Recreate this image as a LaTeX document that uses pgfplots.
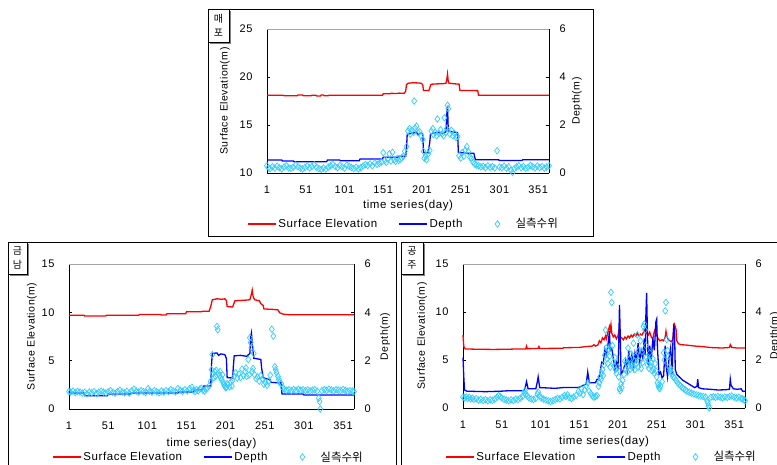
\documentclass[border=0pt]{standalone}
\usepackage{pgfplots}
\usepackage{pgfplotstable}
\pgfplotsset{compat=1.18}
\usepackage{fontspec}
\setmainfont{Liberation Sans}[LetterSpace=5]
\newfontfamily\cjk{Noto Sans CJK KR}

\definecolor{obs}{RGB}{51,204,255}
\definecolor{elev}{RGB}{255,0,0}
\definecolor{dep}{RGB}{0,0,255}

\pgfplotstableread[row sep=\\]{
day d\\
1 0.30\\ 3 0.22\\ 5 0.18\\ 8 0.26\\ 11 0.20\\ 14 0.28\\ 17 0.22\\ 20 0.17\\ 23 0.25\\ 26 0.30\\
29 0.21\\ 32 0.19\\ 35 0.24\\ 38 0.33\\ 41 0.26\\ 44 0.20\\ 47 0.17\\ 50 0.23\\ 53 0.29\\ 56 0.21\\
59 0.27\\ 62 0.34\\ 65 0.24\\ 68 0.18\\ 71 0.15\\ 74 0.21\\ 77 0.16\\ 80 0.24\\ 83 0.30\\ 86 0.36\\
89 0.27\\ 92 0.22\\ 95 0.31\\ 98 0.26\\ 101 0.20\\ 104 0.33\\ 107 0.28\\ 110 0.23\\ 113 0.19\\ 116 0.24\\
119 0.17\\ 122 0.22\\ 125 0.29\\ 128 0.35\\ 131 0.31\\ 134 0.38\\ 137 0.30\\ 140 0.42\\ 143 0.36\\ 146 0.40\\
149 0.46\\ 151 0.85\\ 153 0.52\\ 155 0.44\\ 157 0.58\\ 159 0.80\\ 161 0.50\\ 163 0.86\\ 165 0.55\\ 167 0.48\\
169 0.60\\ 171 0.52\\ 173 0.58\\ 175 0.64\\ 177 0.70\\ 179 0.90\\ 181 1.10\\ 183 1.75\\ 185 1.85\\ 186 1.62\\
188 1.78\\ 190 1.70\\ 191 3.00\\ 192 1.88\\ 194 1.95\\ 196 1.68\\ 198 1.72\\ 200 1.55\\ 202 1.40\\ 203 0.90\\
204 0.62\\ 206 0.70\\ 207 0.55\\ 209 0.80\\ 211 0.95\\ 213 1.75\\ 215 1.85\\ 216 1.60\\ 218 1.70\\ 220 1.55\\
221 2.25\\ 223 1.65\\ 225 1.80\\ 227 1.62\\ 229 1.55\\ 230 2.30\\ 232 1.70\\ 233 1.85\\ 234 2.82\\ 235 2.68\\
237 1.62\\ 239 1.78\\ 241 1.55\\ 243 1.65\\ 245 1.48\\ 247 1.52\\ 249 0.72\\ 251 0.62\\ 253 0.85\\ 255 0.70\\
257 0.95\\ 259 1.10\\ 261 0.88\\ 263 0.65\\ 265 0.60\\ 267 0.45\\ 269 0.38\\ 271 0.33\\ 274 0.30\\ 277 0.26\\
280 0.28\\ 283 0.22\\ 286 0.30\\ 289 0.24\\ 292 0.27\\ 295 0.21\\ 298 0.93\\ 301 0.25\\ 304 0.22\\ 307 0.28\\
310 0.20\\ 313 0.26\\ 316 0.12\\ 318 0.02\\ 320 0.18\\ 323 0.25\\ 326 0.30\\ 329 0.22\\ 332 0.27\\ 335 0.19\\
338 0.24\\ 341 0.31\\ 344 0.26\\ 347 0.21\\ 350 0.29\\ 353 0.23\\ 356 0.27\\ 359 0.20\\ 362 0.25\\ 365 0.30\\
}\obsMaepo

\pgfplotstableread[row sep=\\]{
day d\\
1 0.72\\ 3 0.70\\ 6 0.74\\ 9 0.68\\ 12 0.73\\ 15 0.70\\ 18 0.66\\ 21 0.69\\ 24 0.63\\ 27 0.70\\
30 0.67\\ 33 0.72\\ 36 0.64\\ 39 0.69\\ 42 0.74\\ 45 0.70\\ 48 0.66\\ 51 0.71\\ 54 0.76\\ 57 0.69\\
60 0.65\\ 63 0.72\\ 66 0.78\\ 69 0.70\\ 72 0.67\\ 75 0.73\\ 78 0.66\\ 81 0.75\\ 84 0.82\\ 87 0.74\\
90 0.70\\ 93 0.76\\ 96 0.72\\ 99 0.68\\ 102 0.84\\ 104 0.74\\ 107 0.70\\ 110 0.76\\ 113 0.72\\ 116 0.67\\
119 0.74\\ 122 0.70\\ 125 0.76\\ 128 0.72\\ 131 0.80\\ 134 0.75\\ 137 0.71\\ 140 0.85\\ 143 0.78\\ 146 0.73\\
149 0.80\\ 152 0.75\\ 155 0.84\\ 158 0.90\\ 160 0.78\\ 162 0.72\\ 164 0.80\\ 166 0.75\\ 168 0.82\\ 170 0.86\\
172 0.78\\ 174 0.74\\ 176 0.82\\ 178 0.88\\ 180 0.96\\ 182 1.15\\ 183 1.62\\ 184 2.25\\ 185 1.45\\ 186 1.30\\
187 1.55\\ 188 1.35\\ 189 1.60\\ 190 3.42\\ 191 3.28\\ 192 1.48\\ 193 1.38\\ 194 1.55\\ 195 1.30\\ 196 1.20\\
197 1.42\\ 198 1.10\\ 199 1.00\\ 200 0.95\\ 201 0.88\\ 202 0.90\\ 203 1.05\\ 204 1.00\\ 206 0.92\\ 208 1.12\\
209 0.95\\ 210 1.18\\ 212 1.35\\ 214 1.50\\ 216 1.28\\ 218 1.45\\ 220 1.30\\ 222 1.65\\ 224 1.38\\ 226 1.55\\
227 1.70\\ 228 1.35\\ 230 2.05\\ 231 1.40\\ 232 2.95\\ 233 2.75\\ 234 2.55\\ 235 1.55\\ 236 1.68\\ 237 2.30\\
238 1.42\\ 240 1.25\\ 242 1.32\\ 244 1.15\\ 246 1.38\\ 248 1.25\\ 250 1.02\\ 252 1.10\\ 254 0.98\\ 256 1.15\\
258 1.40\\ 260 3.30\\ 262 3.02\\ 264 1.75\\ 265 1.62\\ 266 1.50\\ 268 1.35\\ 269 1.22\\ 270 1.10\\ 272 1.05\\
274 0.88\\ 276 0.82\\ 279 0.78\\ 282 0.80\\ 285 0.76\\ 288 0.81\\ 291 0.77\\ 294 0.82\\ 297 0.78\\ 300 0.80\\
303 0.76\\ 306 0.79\\ 309 0.75\\ 312 0.78\\ 315 0.80\\ 318 0.74\\ 320 0.45\\ 321 0.31\\ 322 0.00\\ 324 0.76\\
327 0.80\\ 330 0.77\\ 333 0.82\\ 336 0.79\\ 339 0.75\\ 342 0.80\\ 345 0.78\\ 348 0.76\\ 351 0.81\\ 354 0.77\\
357 0.73\\ 360 0.76\\ 363 0.74\\ 365 0.72\\
}\obsGeumnam

\pgfplotstableread[row sep=\\]{
day d\\
1 0.45\\ 3 0.42\\ 5 0.46\\ 7 0.40\\ 9 0.44\\ 11 0.38\\ 13 0.41\\ 15 0.36\\ 18 0.39\\ 21 0.33\\
24 0.36\\ 27 0.31\\ 30 0.35\\ 33 0.30\\ 36 0.34\\ 39 0.32\\ 42 0.37\\ 45 0.45\\ 47 0.52\\ 49 0.48\\
51 0.42\\ 54 0.36\\ 57 0.33\\ 60 0.30\\ 63 0.34\\ 66 0.31\\ 69 0.37\\ 72 0.35\\ 75 0.41\\ 78 0.48\\
80 0.62\\ 81 0.72\\ 82 0.58\\ 84 0.50\\ 86 0.42\\ 89 0.38\\ 92 0.35\\ 95 0.40\\ 97 0.58\\ 98 0.66\\
100 0.50\\ 102 0.42\\ 105 0.37\\ 108 0.33\\ 111 0.30\\ 114 0.27\\ 117 0.30\\ 120 0.35\\ 123 0.40\\ 126 0.38\\
129 0.45\\ 132 0.52\\ 134 0.48\\ 136 0.55\\ 138 0.44\\ 141 0.40\\ 144 0.46\\ 147 0.52\\ 150 0.70\\ 152 0.62\\
154 0.80\\ 156 0.56\\ 158 0.75\\ 160 0.92\\ 162 1.05\\ 164 0.70\\ 166 0.60\\ 168 0.50\\ 170 0.45\\ 172 0.48\\
174 0.52\\ 176 0.90\\ 177 1.05\\ 178 1.30\\ 179 1.20\\ 180 1.45\\ 181 1.60\\ 182 1.35\\ 183 1.80\\ 184 2.20\\
185 3.25\\ 186 2.50\\ 187 2.05\\ 188 1.85\\ 189 2.45\\ 190 2.15\\ 191 1.70\\ 192 4.82\\ 193 4.40\\ 194 2.60\\
195 1.90\\ 196 1.75\\ 197 2.10\\ 198 1.60\\ 199 1.45\\ 201 1.70\\ 202 1.30\\ 203 0.80\\ 204 0.72\\ 205 1.00\\
206 0.85\\ 207 1.15\\ 209 1.40\\ 210 1.95\\ 211 1.60\\ 212 1.85\\ 213 1.50\\ 214 2.50\\ 215 1.75\\ 216 2.05\\
217 1.62\\ 218 2.25\\ 219 1.80\\ 220 1.70\\ 221 2.70\\ 222 1.95\\ 223 1.60\\ 224 2.15\\ 225 1.85\\ 226 3.05\\
227 1.70\\ 228 2.40\\ 229 1.95\\ 230 2.80\\ 231 1.65\\ 232 2.35\\ 233 1.90\\ 234 3.40\\ 235 3.50\\ 236 3.25\\
237 2.60\\ 238 2.10\\ 239 1.80\\ 240 2.00\\ 241 1.65\\ 242 2.30\\ 243 1.75\\ 244 1.90\\ 245 1.55\\ 246 2.05\\
247 1.60\\ 248 1.45\\ 249 1.85\\ 250 1.55\\ 251 1.30\\ 252 1.05\\ 253 0.95\\ 254 0.85\\ 255 0.80\\ 256 0.92\\
258 1.10\\ 260 2.30\\ 261 2.00\\ 262 4.05\\ 263 4.40\\ 264 2.85\\ 265 2.40\\ 266 2.15\\ 267 1.70\\ 268 1.55\\
269 1.65\\ 270 1.50\\ 271 1.40\\ 272 1.30\\ 274 1.25\\ 276 1.15\\ 278 1.05\\ 280 0.98\\ 282 0.92\\ 284 0.85\\
286 0.80\\ 288 0.75\\ 290 0.70\\ 293 0.66\\ 296 0.62\\ 299 0.58\\ 302 0.55\\ 305 0.52\\ 308 0.50\\ 311 0.48\\
314 0.46\\ 316 0.30\\ 317 0.22\\ 318 0.10\\ 319 0.00\\ 321 0.45\\ 324 0.47\\ 327 0.44\\ 330 0.48\\ 333 0.45\\
336 0.42\\ 339 0.46\\ 342 0.44\\ 345 0.48\\ 348 0.50\\ 351 0.45\\ 354 0.42\\ 357 0.45\\ 360 0.40\\ 362 0.38\\
364 0.34\\ 365 0.30\\
}\obsGongju

\tikzset{tag/.style={font=\cjk\fontsize{10}{12}\selectfont, inner sep=0pt}}

\pgfplotsset{
  base/.style={
    scale only axis, xmin=1, xmax=365,
    axis line style={-, line width=0.6pt},
    tick align=inside, major tick length=3pt,
    tick style={black, line width=0.5pt},
    major x tick style={draw=none},
    clip=false,
    font=\fontsize{11}{13}\selectfont,
    /pgf/number format/assume math mode=true,
    every axis plot/.append style={line width=1.3pt},
    legend image code/.code={\draw[mark repeat=2,mark phase=2,##1] plot coordinates {(0pt,0pt) (14pt,0pt) (28pt,0pt)};},
  },
  leftax/.style={
    base, axis x line*=bottom, axis y line*=left,
    xtick={1,51,...,351},
    xticklabel style={yshift=-9pt},
    yticklabel style={xshift=-11pt},
    xlabel={time series(day)},
    xlabel style={anchor=center, font=\fontsize{11.5}{13}\selectfont},
    ylabel={Surface Elevation(m)},
    ylabel style={anchor=center, font=\fontsize{10.5}{12}\selectfont},
  },
  rightax/.style={
    base, axis x line*=top, axis y line*=right,
    x axis line style={gray!70},
    xtick=\empty, ymin=0, ymax=6, ytick={0,2,4,6},
    yticklabel style={xshift=7pt},
    ylabel={Depth(m)},
    ylabel style={anchor=center, font=\fontsize{10.5}{12}\selectfont},
    legend columns=3, legend cell align=left,
    legend style={draw=none, fill=none, inner sep=0pt, anchor=west,
      font=\fontsize{11.5}{13}\selectfont,
      /tikz/every even column/.append style={column sep=19pt}},
  },
  obsplot/.style={only marks, mark=diamond, mark size=3.3pt, color=obs,
    mark options={line width=0.7pt, fill=none}},
  obslegend/.style={legend image code/.code={%
    \path[draw=none, fill=none] (0pt,-3pt) rectangle (30pt,3pt);
    \draw[##1] plot coordinates {(14pt,0pt)};}},
}

\begin{document}
\begin{tikzpicture}
\useasboundingbox (0pt,0pt) rectangle (777pt,465pt);

% panel frames
\draw[line width=0.7pt] (208pt,229pt) rectangle (593pt,456pt);
\draw[line width=0.7pt] (8pt,-5pt) rectangle (396pt,223pt);
\draw[line width=0.7pt] (401pt,-5pt) rectangle (800pt,223pt);

% station tags
\draw[gray, line width=1.5pt] (230pt,454pt) -- (230pt,422pt) -- (210pt,422pt);
\draw[fill=white, line width=0.6pt] (208pt,456pt) rectangle (229pt,423pt);
\node[tag] at (218.5pt,446pt) {매};
\node[tag] at (218.5pt,432pt) {포};
\draw[gray, line width=1.5pt] (28pt,221pt) -- (28pt,190pt) -- (10pt,190pt);
\draw[fill=white, line width=0.6pt] (8pt,223pt) rectangle (27pt,191pt);
\node[tag] at (17.5pt,214pt) {금};
\node[tag] at (17.5pt,200pt) {남};
\draw[gray, line width=1.5pt] (424pt,221pt) -- (424pt,190pt) -- (403pt,190pt);
\draw[fill=white, line width=0.6pt] (401pt,223pt) rectangle (423pt,191pt);
\node[tag] at (412pt,214pt) {공};
\node[tag] at (412pt,200pt) {주};

% ---------- 매포 ----------
\begin{axis}[leftax, at={(267pt,292pt)}, anchor=south west, width=282pt, height=144pt,
  ymin=10, ymax=25, ytick={10,15,20,25},
  xlabel style={at={(axis description cs:0.5,-0.225)}},
  ylabel style={at={(axis description cs:-0.149,0.5)}}]
\addplot[elev, mark=none] coordinates {
(1,18.10)(22,18.10)(23,18.05)(40,18.05)(41,18.12)(47,18.12)(48,18.05)(58,18.05)(59,18.10)(64,18.10)
(65,18.03)(70,18.03)(71,18.12)(74,18.12)(75,18.05)(80,18.05)(81,18.10)(150,18.10)(151,18.25)(160,18.25)
(161,18.30)(168,18.28)(172,18.32)(178,18.30)(180,18.50)(181,19.20)(183,19.35)(190,19.40)(196,19.38)(200,19.35)
(202,19.20)(203,18.60)(210,18.58)(212,19.10)(213,19.25)(220,19.28)(228,19.30)(232,19.35)(233,19.70)(234,20.30)
(235,19.50)(236,19.35)(242,19.30)(249,19.25)(250,18.60)(273,18.58)(274,18.10)(365,18.10)};
\end{axis}
\begin{axis}[rightax, at={(267pt,292pt)}, anchor=south west, width=282pt, height=144pt,
  ylabel style={at={(axis description cs:1.099,0.5)}},
  legend style={at={(axis description cs:-0.071,-0.354)}}]
\addlegendimage{elev, line width=1.3pt}
\addlegendentry{Surface Elevation}
\addplot[dep, mark=none] coordinates {
(1,0.54)(20,0.54)(21,0.50)(35,0.50)(36,0.47)(78,0.47)(79,0.54)(95,0.54)(96,0.51)(120,0.51)
(121,0.58)(150,0.58)(151,0.66)(170,0.66)(171,0.70)(180,0.70)(181,1.00)(182,1.62)(188,1.65)(194,1.70)
(196,1.60)(200,1.68)(202,1.62)(203,0.86)(209,0.84)(211,1.25)(212,1.62)(220,1.70)(228,1.65)(232,1.72)
(233,2.40)(234,2.80)(235,1.75)(240,1.72)(247,1.68)(248,0.86)(262,0.82)(268,0.82)(270,0.55)(300,0.55)
(301,0.52)(330,0.52)(331,0.55)(365,0.55)};
\addlegendentry{Depth}
\addplot[obsplot, obslegend] table[x=day, y=d] {\obsMaepo};
\addlegendentry{{\cjk\fontsize{11.5}{13}\selectfont 실측수위}}
\end{axis}

% ---------- 금남 ----------
\begin{axis}[leftax, at={(69pt,56pt)}, anchor=south west, width=285pt, height=145pt,
  ymin=0, ymax=15, ytick={0,5,10,15},
  xlabel style={at={(axis description cs:0.5,-0.235)}},
  ylabel style={at={(axis description cs:-0.13,0.5)}}]
\addplot[elev, mark=none] coordinates {
(1,9.70)(20,9.70)(21,9.62)(48,9.62)(49,9.70)(90,9.70)(91,9.78)(118,9.78)(119,9.72)(125,9.72)
(126,9.85)(150,9.85)(151,10.05)(170,10.05)(171,10.10)(180,10.12)(182,10.60)(184,11.30)(190,11.40)(196,11.35)
(200,11.40)(202,11.20)(203,10.60)(210,10.55)(212,11.00)(213,11.20)(225,11.25)(232,11.30)(234,11.90)(235,12.30)
(236,11.70)(238,11.30)(244,11.20)(246,10.90)(249,10.70)(250,10.35)(262,10.30)(268,10.25)(270,9.95)(275,9.80)
(283,9.75)(365,9.75)};
\end{axis}
\begin{axis}[rightax, at={(69pt,56pt)}, anchor=south west, width=285pt, height=145pt,
  ylabel style={at={(axis description cs:1.109,0.5)}},
  legend style={at={(axis description cs:-0.06,-0.331)}}]
\addlegendimage{elev, line width=1.3pt}
\addlegendentry{Surface Elevation}
\addplot[dep, mark=none] coordinates {
(1,0.66)(20,0.66)(21,0.55)(50,0.55)(51,0.62)(80,0.62)(81,0.66)(140,0.66)(141,0.70)(160,0.70)
(161,0.80)(172,0.80)(173,0.95)(182,0.95)(183,1.80)(184,2.30)(190,2.32)(192,2.22)(195,2.28)(200,2.25)
(202,2.10)(203,1.30)(210,1.28)(211,1.80)(212,2.20)(220,2.22)(228,2.18)(232,2.30)(233,3.00)(234,3.15)
(235,2.70)(237,2.10)(246,2.05)(247,1.70)(249,1.30)(258,1.20)(259,1.10)(272,1.08)(273,0.62)(300,0.62)
(301,0.58)(365,0.58)};
\addlegendentry{Depth}
\addplot[obsplot, obslegend] table[x=day, y=d] {\obsGeumnam};
\addlegendentry{{\cjk\fontsize{11.5}{13}\selectfont 실측수위}}
\end{axis}

% ---------- 공주 ----------
\begin{axis}[leftax, at={(463pt,57pt)}, anchor=south west, width=282pt, height=144pt,
  ymin=0, ymax=15, ytick={0,5,10,15},
  xlabel style={at={(axis description cs:0.5,-0.23)}},
  ylabel style={at={(axis description cs:-0.145,0.5)}}]
\addplot[elev, mark=none] coordinates {
(1,7.60)(2,6.40)(4,6.15)(20,6.12)(40,6.10)(60,6.12)(70,6.15)(82,6.15)(83,6.45)(84,6.18)
(98,6.20)(99,6.40)(100,6.20)(130,6.22)(131,6.28)(150,6.30)(160,6.40)(168,6.45)(170,6.60)(172,6.45)
(175,6.55)(177,7.00)(179,6.80)(181,7.30)(183,7.10)(185,7.50)(186,7.20)(188,7.90)(190,8.50)(191,8.10)
(192,8.70)(193,7.80)(195,7.40)(197,7.60)(199,7.20)(201,7.50)(203,8.40)(204,7.40)(206,7.30)(208,7.10)
(210,7.40)(212,7.20)(214,7.50)(216,7.30)(218,7.60)(220,7.40)(222,7.70)(224,7.50)(226,7.80)(228,7.50)
(230,7.70)(232,7.60)(234,7.90)(236,8.20)(237,8.60)(238,7.80)(240,7.60)(242,7.90)(244,7.40)(246,7.20)
(248,8.00)(250,8.40)(251,7.60)(253,7.20)(255,7.00)(258,7.10)(260,7.00)(262,7.40)(263,8.00)(264,7.50)
(266,7.10)(268,7.00)(270,6.90)(272,7.20)(273,8.40)(274,8.70)(276,8.20)(277,7.00)(279,6.70)(282,6.60)
(290,6.55)(300,6.45)(310,6.40)(320,6.30)(335,6.25)(345,6.30)(346,6.60)(348,6.30)(355,6.25)(365,6.25)};
\end{axis}
\begin{axis}[rightax, at={(463pt,57pt)}, anchor=south west, width=282pt, height=144pt,
  ylabel style={at={(axis description cs:1.106,0.5)}},
  legend style={at={(axis description cs:-0.064,-0.34)}}]
\addlegendimage{elev, line width=1.3pt}
\addlegendentry{Surface Elevation}
\addplot[dep, mark=none] coordinates {
(1,2.10)(2,1.30)(3,0.75)(6,0.70)(30,0.68)(50,0.70)(60,0.72)(80,0.72)(82,0.95)(83,1.10)
(85,0.80)(95,0.80)(97,1.10)(98,1.30)(100,0.85)(120,0.82)(130,0.85)(150,0.85)(160,1.00)(162,1.50)
(164,1.05)(172,1.05)(174,1.20)(176,1.20)(178,1.50)(180,1.90)(182,1.85)(184,2.45)(186,2.20)(188,2.60)
(190,3.20)(191,2.40)(193,2.50)(195,2.10)(197,1.60)(199,1.90)(201,1.70)(202,2.60)(203,4.30)(204,3.00)
(205,1.40)(207,1.50)(209,1.70)(211,2.00)(213,1.60)(215,2.40)(217,1.80)(219,2.20)(221,1.70)(223,2.30)
(225,2.00)(227,2.70)(229,1.90)(231,2.40)(233,2.10)(235,2.90)(236,2.20)(237,3.80)(238,4.80)(239,3.20)
(240,1.80)(242,2.60)(244,2.00)(246,2.90)(248,2.40)(250,3.60)(251,3.70)(252,2.50)(254,1.40)(256,1.50)
(258,1.25)(260,1.35)(262,2.60)(263,1.80)(265,1.30)(267,2.10)(269,2.50)(271,1.40)(272,2.80)(273,3.40)
(274,3.30)(275,1.60)(277,1.40)(280,1.30)(285,1.15)(290,1.05)(295,0.95)(300,0.85)(303,0.90)(304,1.20)
(305,0.85)(310,0.80)(320,0.78)(330,0.75)(340,0.76)(345,0.78)(346,1.20)(347,0.95)(350,0.80)(355,0.78)
(360,0.80)(362,0.70)(365,0.70)};
\addlegendentry{Depth}
\addplot[obsplot, obslegend] table[x=day, y=d] {\obsGongju};
\addlegendentry{{\cjk\fontsize{11.5}{13}\selectfont 실측수위}}
\end{axis}
\end{tikzpicture}
\end{document}
